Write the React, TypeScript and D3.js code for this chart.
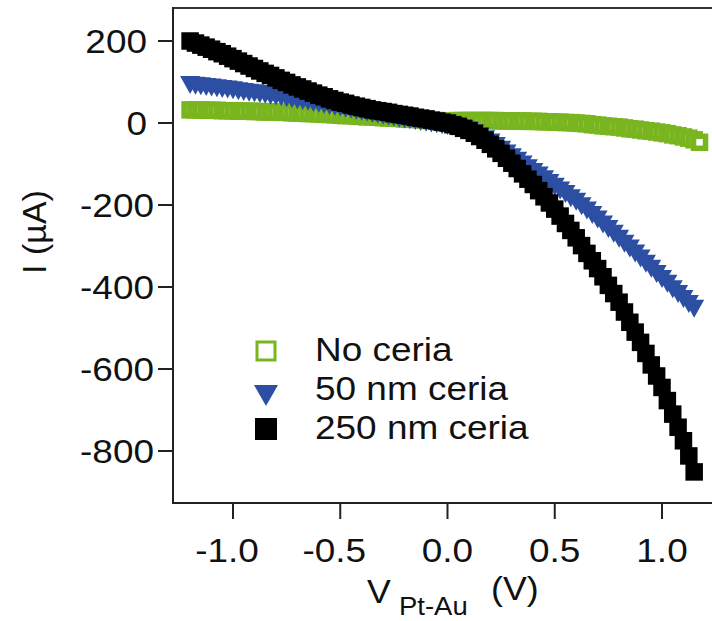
import React from 'react';
import * as d3 from 'd3';

const voltage = [-1.2,-1.175,-1.15,-1.125,-1.1,-1.075,-1.05,-1.025,-1,-0.975,-0.95,-0.925,-0.9,-0.875,-0.85,-0.825,-0.8,-0.775,-0.75,-0.725,-0.7,-0.675,-0.65,-0.625,-0.6,-0.575,-0.55,-0.525,-0.5,-0.475,-0.45,-0.425,-0.4,-0.375,-0.35,-0.325,-0.3,-0.275,-0.25,-0.225,-0.2,-0.175,-0.15,-0.125,-0.1,-0.075,-0.05,-0.025,0,0.025,0.05,0.075,0.1,0.125,0.15,0.175,0.2,0.225,0.25,0.275,0.3,0.325,0.35,0.375,0.4,0.425,0.45,0.475,0.5,0.525,0.55,0.575,0.6,0.625,0.65,0.675,0.7,0.725,0.75,0.775,0.8,0.825,0.85,0.875,0.9,0.925,0.95,0.975,1,1.025,1.05,1.075,1.1,1.125,1.15,1.175];

const noCeria = [32,32,32,31,31,31,30,30,30,29,29,29,28,28,27,27,27,26,26,25,24,24,23,23,22,21,21,20,19,18,18,17,16,15,15,14,13,12,12,11,10,9,9,8,7,6,6,5,5,5,6,6,6,6,6,6,6,6,5,5,5,5,5,4,4,4,3,3,2,2,1,1,0,-1,-2,-4,-5,-7,-8,-9,-10,-12,-14,-15,-17,-19,-20,-22,-24,-26,-29,-31,-34,-37,-41,-47];

const ceria50 = [100,98,97,95,94,92,90,89,87,85,83,81,80,78,76,74,72,70,68,65,63,61,59,56,54,52,49,47,45,42,40,37,35,33,30,28,25,23,21,18,16,14,12,10,8,6,4,2,0,-2,-5,-8,-12,-18,-25,-32,-40,-49,-58,-67,-76,-85,-94,-103,-112,-121,-130,-139,-148,-157,-166,-176,-185,-196,-206,-217,-228,-240,-251,-263,-275,-287,-299,-311,-323,-336,-348,-361,-373,-385,-398,-410,-422,-434,-446];

const ceria250 = [200,195,190,185,180,174,169,163,157,151,145,139,133,127,121,116,110,104,99,93,88,83,78,73,68,64,59,55,51,48,44,41,38,35,32,30,28,26,23,21,19,17,14,12,10,7,5,2,0,-4,-8,-13,-18,-25,-33,-42,-52,-63,-74,-86,-98,-111,-124,-137,-150,-165,-180,-195,-210,-227,-245,-262,-280,-299,-318,-336,-355,-375,-396,-416,-437,-461,-486,-510,-535,-562,-590,-617,-645,-677,-710,-742,-775,-812,-851];

const yTicks = [200, 0, -200, -400, -600, -800];
const xTicks = [-1.0, -0.5, 0.0, 0.5, 1.0];
const seriesNames = ['No ceria', '50 nm ceria', '250 nm ceria'];

const GREEN = '#79b51e';
const BLUE = '#2c4fa3';
const BLACK = '#000000';
const FONT = '"Liberation Sans", Arial, Helvetica, sans-serif';
const SX = 1.12;

function SText({ x, y, size, anchor = 'start', children, sx = SX }: any) {
  return (
    <text
      transform={`translate(${x},${y}) scale(${sx},1)`}
      fontFamily={FONT}
      fontSize={size}
      textAnchor={anchor}
      fill="#111"
    >
      {children}
    </text>
  );
}

function triPath(cx: number, cy: number, w: number, h: number) {
  const p = d3.path();
  p.moveTo(cx - w / 2, cy - h / 3);
  p.lineTo(cx + w / 2, cy - h / 3);
  p.lineTo(cx, cy + (2 * h) / 3);
  p.closePath();
  return p.toString();
}

export default function App() {
  const W = 712, H = 621;
  const left = 173, right = 712, top = 8, bottom = 503;
  const x = d3.scaleLinear().domain([-1.2797, 1.2331]).range([left, right]);
  const y = d3.scaleLinear().domain([-926.8, 280.5]).range([bottom, top]);

  const green = noCeria.map((v, i) => ({ vx: voltage[i], vy: v }));
  const blue = ceria50.map((v, i) => ({ vx: voltage[i], vy: v }));
  const black = ceria250.map((v, i) => ({ vx: voltage[i], vy: v }));

  const ms = 17.5;
  const gs = 12;
  const legendX = 266;
  const legendRows = [351, 392, 429];
  const legendTextX = 315;
  const legendBase = [361, 400, 439];

  return (
    <svg width={W} height={H} style={{ position: 'absolute', left: 0, top: 0, background: '#fff' }}>
      <rect x={0} y={0} width={W} height={H} fill="#fff" />
      {/* data */}
      <g>
        {green.map((d, i) => (
          <rect key={'g' + i} x={x(d.vx) - gs / 2} y={y(d.vy) - gs / 2} width={gs} height={gs}
            fill="#fff" stroke={GREEN} strokeWidth={5.5} />
        ))}
      </g>
      <g>
        {blue.map((d, i) => (
          <path key={'b' + i} d={triPath(x(d.vx), y(d.vy), 20, 18)} fill={BLUE} />
        ))}
      </g>
      <g>
        {black.map((d, i) => (
          <rect key={'k' + i} x={x(d.vx) - ms / 2} y={y(d.vy) - ms / 2} width={ms} height={ms} fill={BLACK} />
        ))}
      </g>

      {/* frame */}
      <line x1={left} x2={right} y1={top} y2={top} stroke="#333" strokeWidth={2} />
      <line x1={left} x2={right} y1={bottom} y2={bottom} stroke="#222" strokeWidth={2} />
      <line x1={left} x2={left} y1={top - 1} y2={bottom + 1} stroke="#222" strokeWidth={2} />

      {/* y ticks */}
      {yTicks.map((t) => (
        <g key={'yt' + t}>
          <line x1={left - 15} x2={left} y1={y(t)} y2={y(t)} stroke="#222" strokeWidth={2} />
          <SText x={t < 0 ? 154 : 147} y={y(t) + 12} size={33} anchor="end">{String(t)}</SText>
        </g>
      ))}

      {/* x ticks */}
      {xTicks.map((t) => (
        <g key={'xt' + t}>
          <line x1={x(t)} x2={x(t)} y1={bottom} y2={bottom + 16} stroke="#222" strokeWidth={2} />
          <SText x={x(t) - (t < 0 ? 6 : 0)} y={562} size={33} anchor="middle">{t.toFixed(1)}</SText>
        </g>
      ))}

      {/* y title */}
      <text transform="translate(46,232) rotate(-90)" fontFamily={FONT} fontSize={34} textAnchor="middle" fill="#111">
        I (µA)
      </text>

      {/* x title */}
      <SText x={367} y={603} size={34} sx={1.05}>V</SText>
      <SText x={399} y={615} size={25} sx={1.1}>Pt-Au</SText>
      <SText x={491} y={600} size={34} sx={1.05}>(V)</SText>

      {/* legend */}
      <rect x={legendX - 9} y={legendRows[0] - 9} width={18} height={18} fill="#fff" stroke={GREEN} strokeWidth={3} />
      <path d={triPath(legendX, legendRows[1], 24, 21)} fill={BLUE} />
      <rect x={legendX - 11} y={legendRows[2] - 11} width={22} height={22} fill={BLACK} />
      {seriesNames.map((n, i) => (
        <SText key={n} x={legendTextX} y={legendBase[i]} size={33}>{n}</SText>
      ))}
    </svg>
  );
}
